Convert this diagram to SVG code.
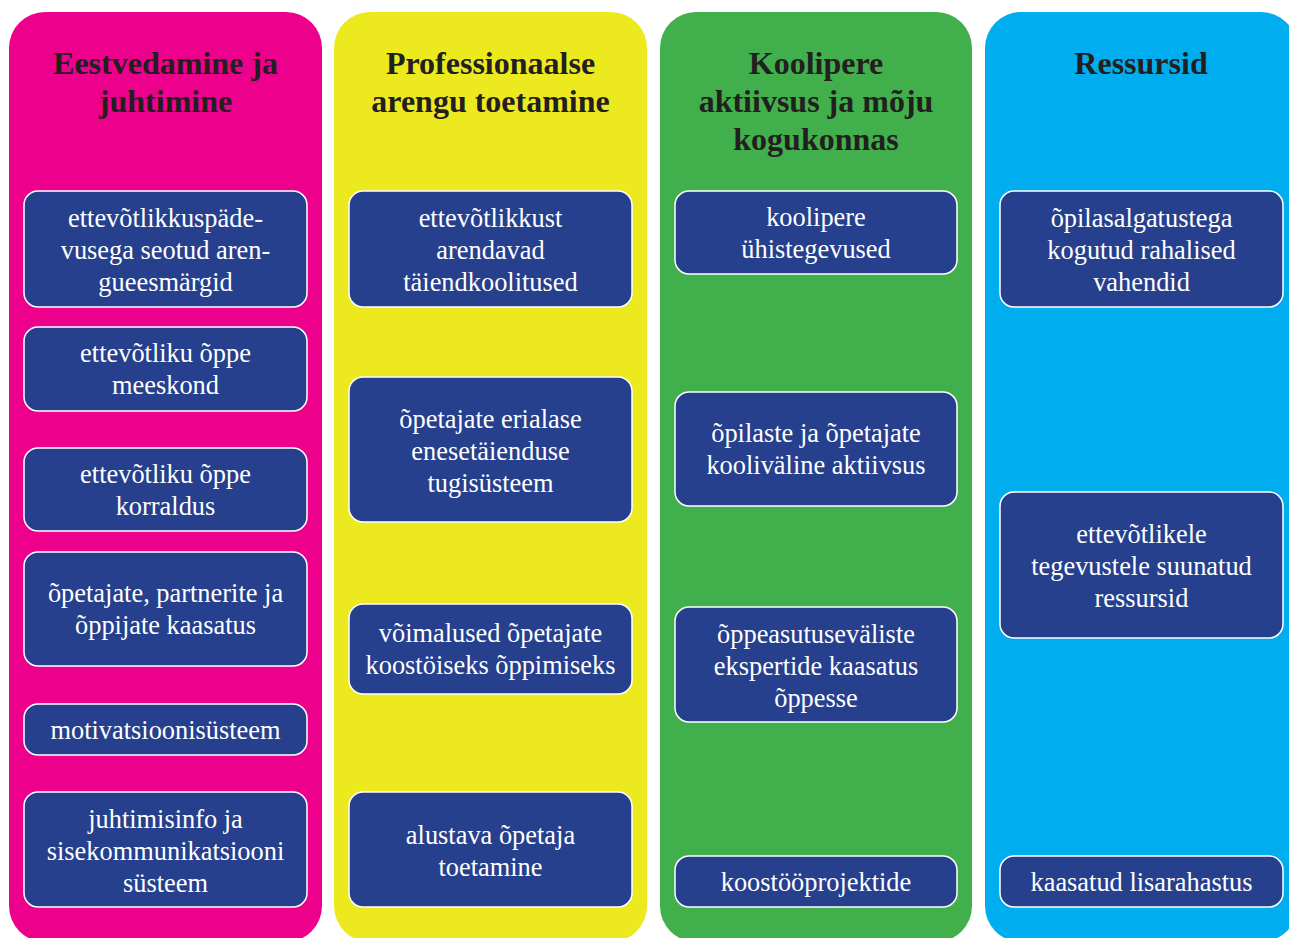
<svg xmlns="http://www.w3.org/2000/svg" width="1289" height="938" viewBox="0 0 1289 938">
<style>
.col{stroke:none}
.box{fill:#26408E;stroke:#FFFFFF;stroke-width:1.5}
.t{font-family:"Liberation Serif","Times New Roman",serif;font-size:26.4px;fill:#FFFFFF;text-anchor:middle}
.h{font-family:"Liberation Serif","Times New Roman",serif;font-size:32px;font-weight:bold;fill:#231F20;text-anchor:middle}
</style>
<rect width="1289" height="938" fill="#FFFFFF"/>
<g id="col-pink">
<rect class="col" x="9" y="12" width="313" height="930" rx="36" fill="#EC008C"/>
<text class="h" x="165.5" y="74">Eestvedamine ja</text>
<text class="h" x="165.5" y="112">juhtimine</text>
</g>
<g id="col-yellow">
<rect class="col" x="334" y="12" width="313" height="930" rx="36" fill="#EDE91F"/>
<text class="h" x="490.5" y="74">Professionaalse</text>
<text class="h" x="490.5" y="112">arengu toetamine</text>
</g>
<g id="col-green">
<rect class="col" x="660" y="12" width="312" height="930" rx="36" fill="#41AF4B"/>
<text class="h" x="816" y="74">Koolipere</text>
<text class="h" x="816" y="112">aktiivsus ja mõju</text>
<text class="h" x="816" y="150">kogukonnas</text>
</g>
<g id="col-blue">
<rect class="col" x="985" y="12" width="312" height="930" rx="36" fill="#00AEEF"/>
<text class="h" x="1141" y="74">Ressursid</text>
</g>
<g id="connectors"></g>
<g id="p1"><rect class="box" x="24" y="191" width="283" height="116" rx="14"/>
<text class="t" x="165.5" y="227">ettevõtlikkuspäde-</text><text class="t" x="165.5" y="259">vusega seotud aren-</text><text class="t" x="165.5" y="291">gueesmärgid</text></g>
<g id="p2"><rect class="box" x="24" y="327" width="283" height="84" rx="14"/>
<text class="t" x="165.5" y="362">ettevõtliku õppe</text><text class="t" x="165.5" y="394">meeskond</text></g>
<g id="p3"><rect class="box" x="24" y="448" width="283" height="83" rx="14"/>
<text class="t" x="165.5" y="482.5">ettevõtliku õppe</text><text class="t" x="165.5" y="514.5">korraldus</text></g>
<g id="p4"><rect class="box" x="24" y="552" width="283" height="114" rx="14"/>
<text class="t" x="165.5" y="602">õpetajate, partnerite ja</text><text class="t" x="165.5" y="634">õppijate kaasatus</text></g>
<g id="p5"><rect class="box" x="24" y="704" width="283" height="51" rx="14"/>
<text class="t" x="165.5" y="738.5">motivatsioonisüsteem</text></g>
<g id="p6"><rect class="box" x="24" y="792" width="283" height="115" rx="14"/>
<text class="t" x="165.5" y="827.5">juhtimisinfo ja</text><text class="t" x="165.5" y="859.5">sisekommunikatsiooni</text><text class="t" x="165.5" y="891.5">süsteem</text></g>
<g id="y1"><rect class="box" x="349" y="191" width="283" height="116" rx="14"/>
<text class="t" x="490.5" y="227">ettevõtlikkust</text><text class="t" x="490.5" y="259">arendavad</text><text class="t" x="490.5" y="291">täiendkoolitused</text></g>
<g id="y2"><rect class="box" x="349" y="377" width="283" height="145" rx="14"/>
<text class="t" x="490.5" y="427.5">õpetajate erialase</text><text class="t" x="490.5" y="459.5">enesetäienduse</text><text class="t" x="490.5" y="491.5">tugisüsteem</text></g>
<g id="y3"><rect class="box" x="349" y="604" width="283" height="90" rx="14"/>
<text class="t" x="490.5" y="642">võimalused õpetajate</text><text class="t" x="490.5" y="674">koostöiseks õppimiseks</text></g>
<g id="y4"><rect class="box" x="349" y="792" width="283" height="115" rx="14"/>
<text class="t" x="490.5" y="843.5">alustava õpetaja</text><text class="t" x="490.5" y="875.5">toetamine</text></g>
<g id="g1"><rect class="box" x="675" y="191" width="282" height="83" rx="14"/>
<text class="t" x="816" y="225.5">koolipere</text><text class="t" x="816" y="257.5">ühistegevused</text></g>
<g id="g2"><rect class="box" x="675" y="392" width="282" height="114" rx="14"/>
<text class="t" x="816" y="442">õpilaste ja õpetajate</text><text class="t" x="816" y="474">kooliväline aktiivsus</text></g>
<g id="g3"><rect class="box" x="675" y="607" width="282" height="115" rx="14"/>
<text class="t" x="816" y="642.5">õppeasutuseväliste</text><text class="t" x="816" y="674.5">ekspertide kaasatus</text><text class="t" x="816" y="706.5">õppesse</text></g>
<g id="g4"><rect class="box" x="675" y="856" width="282" height="51" rx="14"/>
<text class="t" x="816" y="890.5">koostööprojektide</text></g>
<g id="b1"><rect class="box" x="1000" y="191" width="283" height="116" rx="14"/>
<text class="t" x="1141.5" y="227">õpilasalgatustega</text><text class="t" x="1141.5" y="259">kogutud rahalised</text><text class="t" x="1141.5" y="291">vahendid</text></g>
<g id="b2"><rect class="box" x="1000" y="492" width="283" height="146" rx="14"/>
<text class="t" x="1141.5" y="543">ettevõtlikele</text><text class="t" x="1141.5" y="575">tegevustele suunatud</text><text class="t" x="1141.5" y="607">ressursid</text></g>
<g id="b3"><rect class="box" x="1000" y="856" width="283" height="51" rx="14"/>
<text class="t" x="1141.5" y="890.5">kaasatud lisarahastus</text></g>
</svg>
